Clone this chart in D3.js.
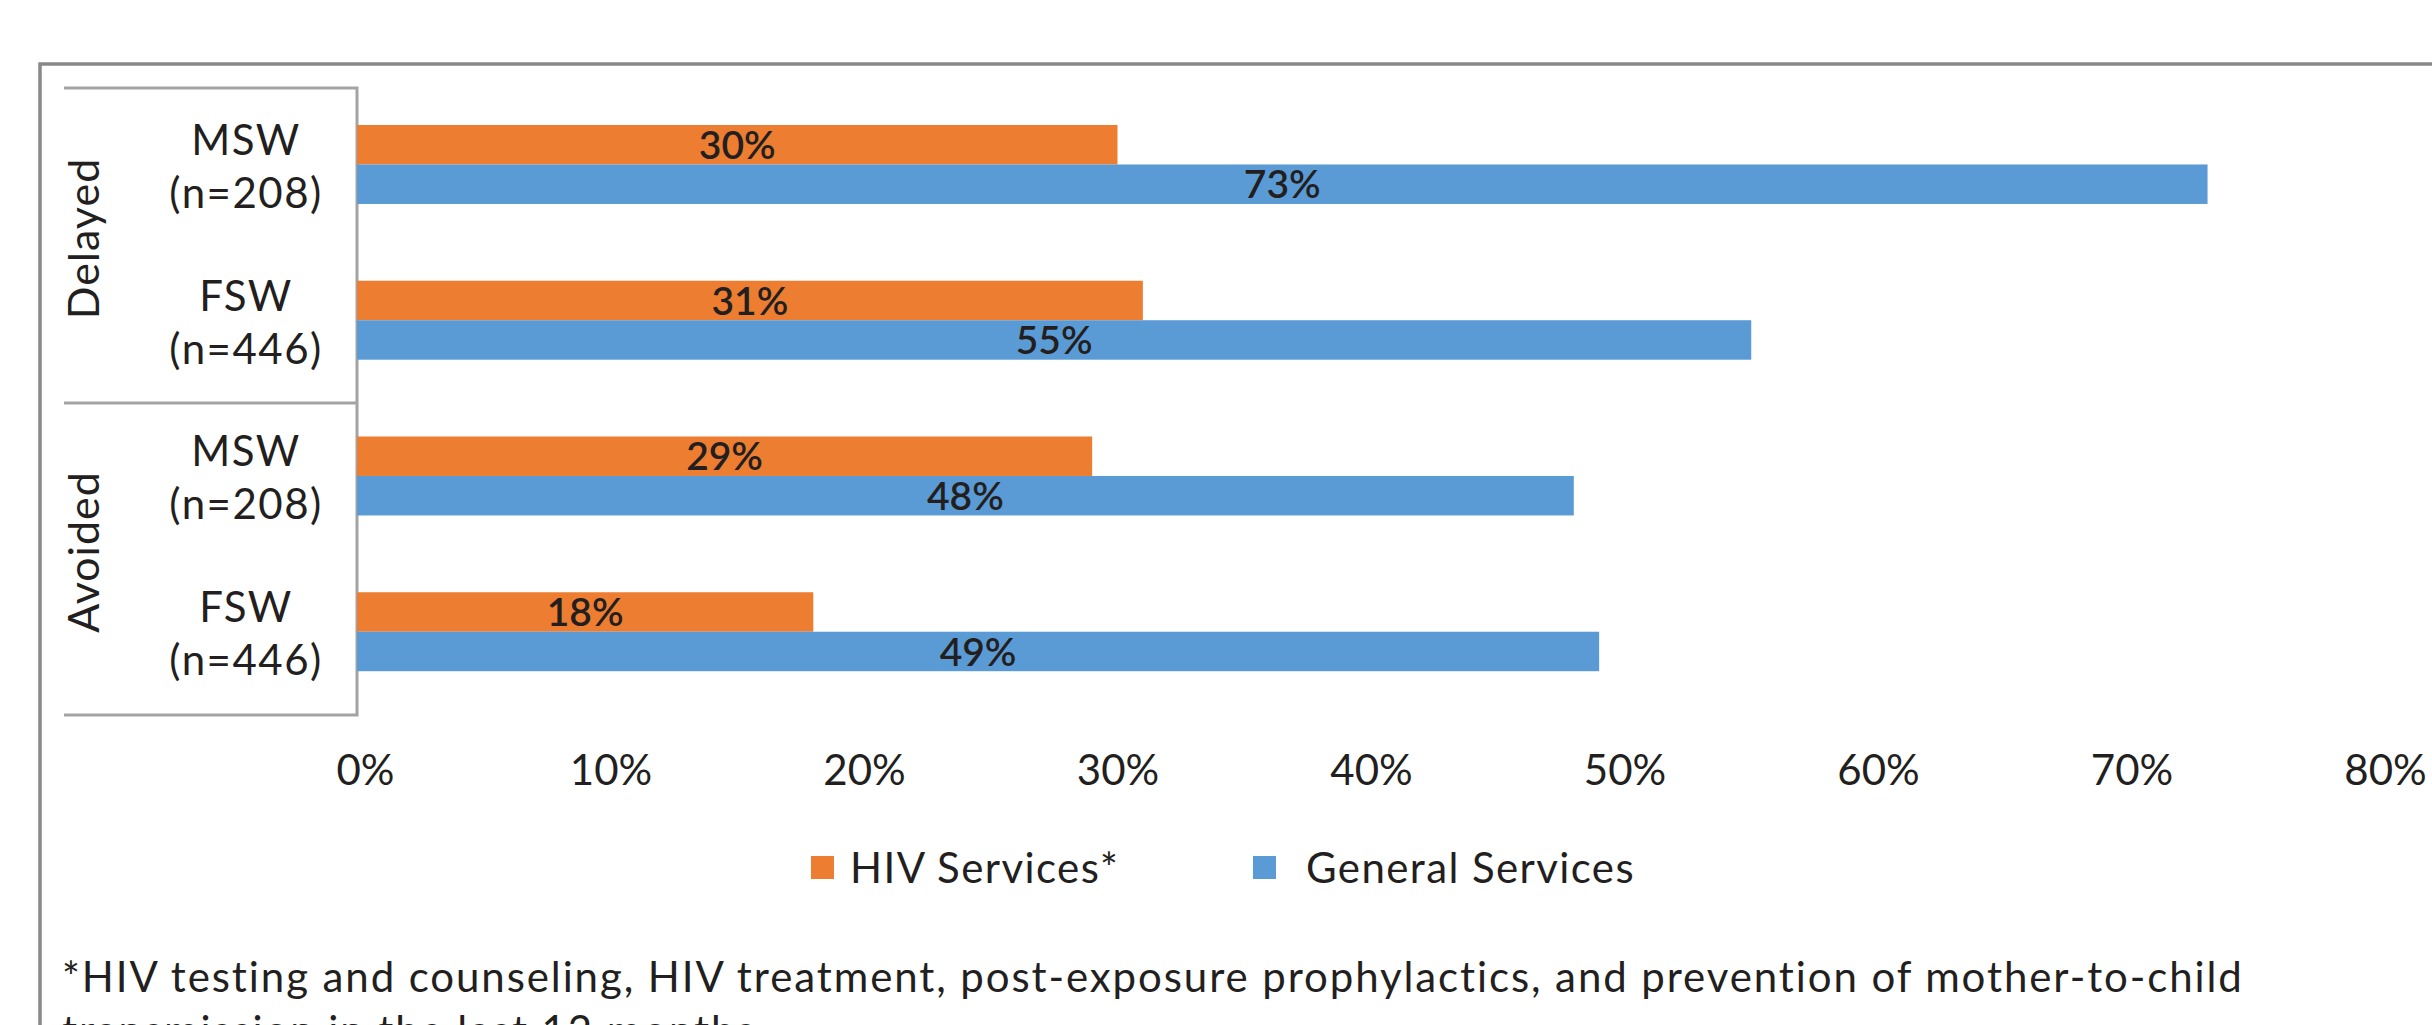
<!DOCTYPE html>
<html>
<head>
<meta charset="utf-8">
<script src="https://cdn.jsdelivr.net/npm/d3@7"></script>
<style>
  html, body { margin: 0; padding: 0; background: #ffffff; }
  svg { display: block; }
  text { font-family: Lato, "Noto Sans", sans-serif; fill: #231f20; }
</style>
</head>
<body>
<svg id="chart" width="2432" height="1025"></svg>
<script>
// Share of sex workers who delayed or avoided care, by service type
const groups = ["Delayed", "Avoided"];
const rows = [
  { group: "Delayed", label: "MSW", n: "(n=208)" },
  { group: "Delayed", label: "FSW", n: "(n=446)" },
  { group: "Avoided", label: "MSW", n: "(n=208)" },
  { group: "Avoided", label: "FSW", n: "(n=446)" }
];
const seriesNames = ["HIV Services*", "General Services"];
const hivValues = [30, 31, 29, 18];
const generalValues = [73, 55, 48, 49];
const tickValues = [0, 10, 20, 30, 40, 50, 60, 70, 80];
const footnoteLines = [
  "*HIV testing and counseling, HIV treatment, post-exposure prophylactics, and prevention of mother-to-child",
  "transmission in the last 12 months"
];

const colors = { "HIV Services*": "#ed7d31", "General Services": "#5b9bd5" };
const frameGray = "#898989";
const boxGray = "#a4a4a6";

const svg = d3.select("#chart");
svg.append("rect").attr("width", 2432).attr("height", 1025).attr("fill", "#fff");

// Outer frame (runs off the right and bottom edges)
svg.append("path")
  .attr("d", "M40,1040 V64 H2440")
  .attr("fill", "none")
  .attr("stroke", frameGray)
  .attr("stroke-width", 3.5);

const x = d3.scaleLinear().domain([0, 80]).range([357, 2385]);

const rowKeys = rows.map((r, i) => i);
const y = d3.scaleBand().domain(rowKeys).range([86.6, 709.6])
  .paddingInner(0.493).paddingOuter(0.2465);
const ySub = d3.scaleBand().domain(seriesNames).range([0, y.bandwidth()]);

// Category box on the left
const boxTop = 88, boxMid = 403, boxBottom = 715, boxLeft = 64, boxRight = x(0);
const box = svg.append("g").attr("fill", "none").attr("stroke", boxGray).attr("stroke-width", 3);
box.append("path").attr("d", `M${boxLeft},${boxTop} H${boxRight} V${boxBottom} H${boxLeft}`);
box.append("path").attr("d", `M${boxLeft},${boxMid} H${boxRight}`);

// Group labels (rotated)
const groupSpans = [[boxTop, boxMid], [boxMid, boxBottom]];
svg.append("g").selectAll("text").data(groups).join("text")
  .attr("transform", (d, i) => `translate(99,${(groupSpans[i][0] + groupSpans[i][1]) / 2 - 7}) rotate(-90)`)
  .attr("text-anchor", "middle")
  .attr("font-size", 43)
  .attr("letter-spacing", 1)
  .text(d => d);

// Row labels
const rowLabels = svg.append("g").attr("text-anchor", "middle").attr("font-size", 42)
  .attr("letter-spacing", 1.5);
rows.forEach((r, i) => {
  const c = y(i) + y.bandwidth() / 2;
  rowLabels.append("text").attr("x", 246).attr("y", c - 9.5).text(r.label);
  rowLabels.append("text").attr("x", 246).attr("y", c + 43.5).text(r.n);
});

// Bars
const data = [];
rows.forEach((r, i) => {
  data.push({ row: i, series: seriesNames[0], value: hivValues[i] });
  data.push({ row: i, series: seriesNames[1], value: generalValues[i] });
});

svg.append("g").selectAll("rect").data(data).join("rect")
  .attr("x", x(0))
  .attr("y", d => y(d.row) + ySub(d.series))
  .attr("width", d => x(d.value) - x(0))
  .attr("height", ySub.bandwidth())
  .attr("fill", d => colors[d.series]);

// Value labels
svg.append("g").selectAll("text").data(data).join("text")
  .attr("x", d => (x(0) + x(d.value)) / 2)
  .attr("y", d => y(d.row) + ySub(d.series) + ySub.bandwidth() / 2)
  .attr("dy", "0.36em")
  .attr("text-anchor", "middle")
  .attr("font-size", 39)
  .attr("font-weight", 600)
  .text(d => d.value + "%");

// X axis
const axis = svg.append("g")
  .attr("transform", "translate(0,755)")
  .call(d3.axisBottom(x).tickValues(tickValues).tickFormat(d => d + "%").tickSize(0).tickPadding(0));
axis.select(".domain").remove();
axis.selectAll("text")
  .attr("font-family", "Lato, 'Noto Sans', sans-serif")
  .attr("font-size", 42)
  .attr("fill", "#231f20")
  .attr("dx", (d, i) => i === 0 ? 8 : 0);

// Legend
const legendItems = [
  { name: seriesNames[0], sx: 811, tx: 850 },
  { name: seriesNames[1], sx: 1253, tx: 1306 }
];
const legend = svg.append("g");
legend.selectAll("rect").data(legendItems).join("rect")
  .attr("x", d => d.sx).attr("y", 856).attr("width", 23).attr("height", 23)
  .attr("fill", d => colors[d.name]);
legend.selectAll("text").data(legendItems).join("text")
  .attr("x", d => d.tx).attr("y", 883)
  .attr("font-size", 42)
  .attr("letter-spacing", 1.4)
  .text(d => d.name);

// Footnote
svg.append("g").selectAll("text").data(footnoteLines).join("text")
  .attr("x", 62)
  .attr("y", (d, i) => 992 + i * 54)
  .attr("font-size", 42)
  .attr("letter-spacing", 1.9)
  .text(d => d);
</script>
</body>
</html>
